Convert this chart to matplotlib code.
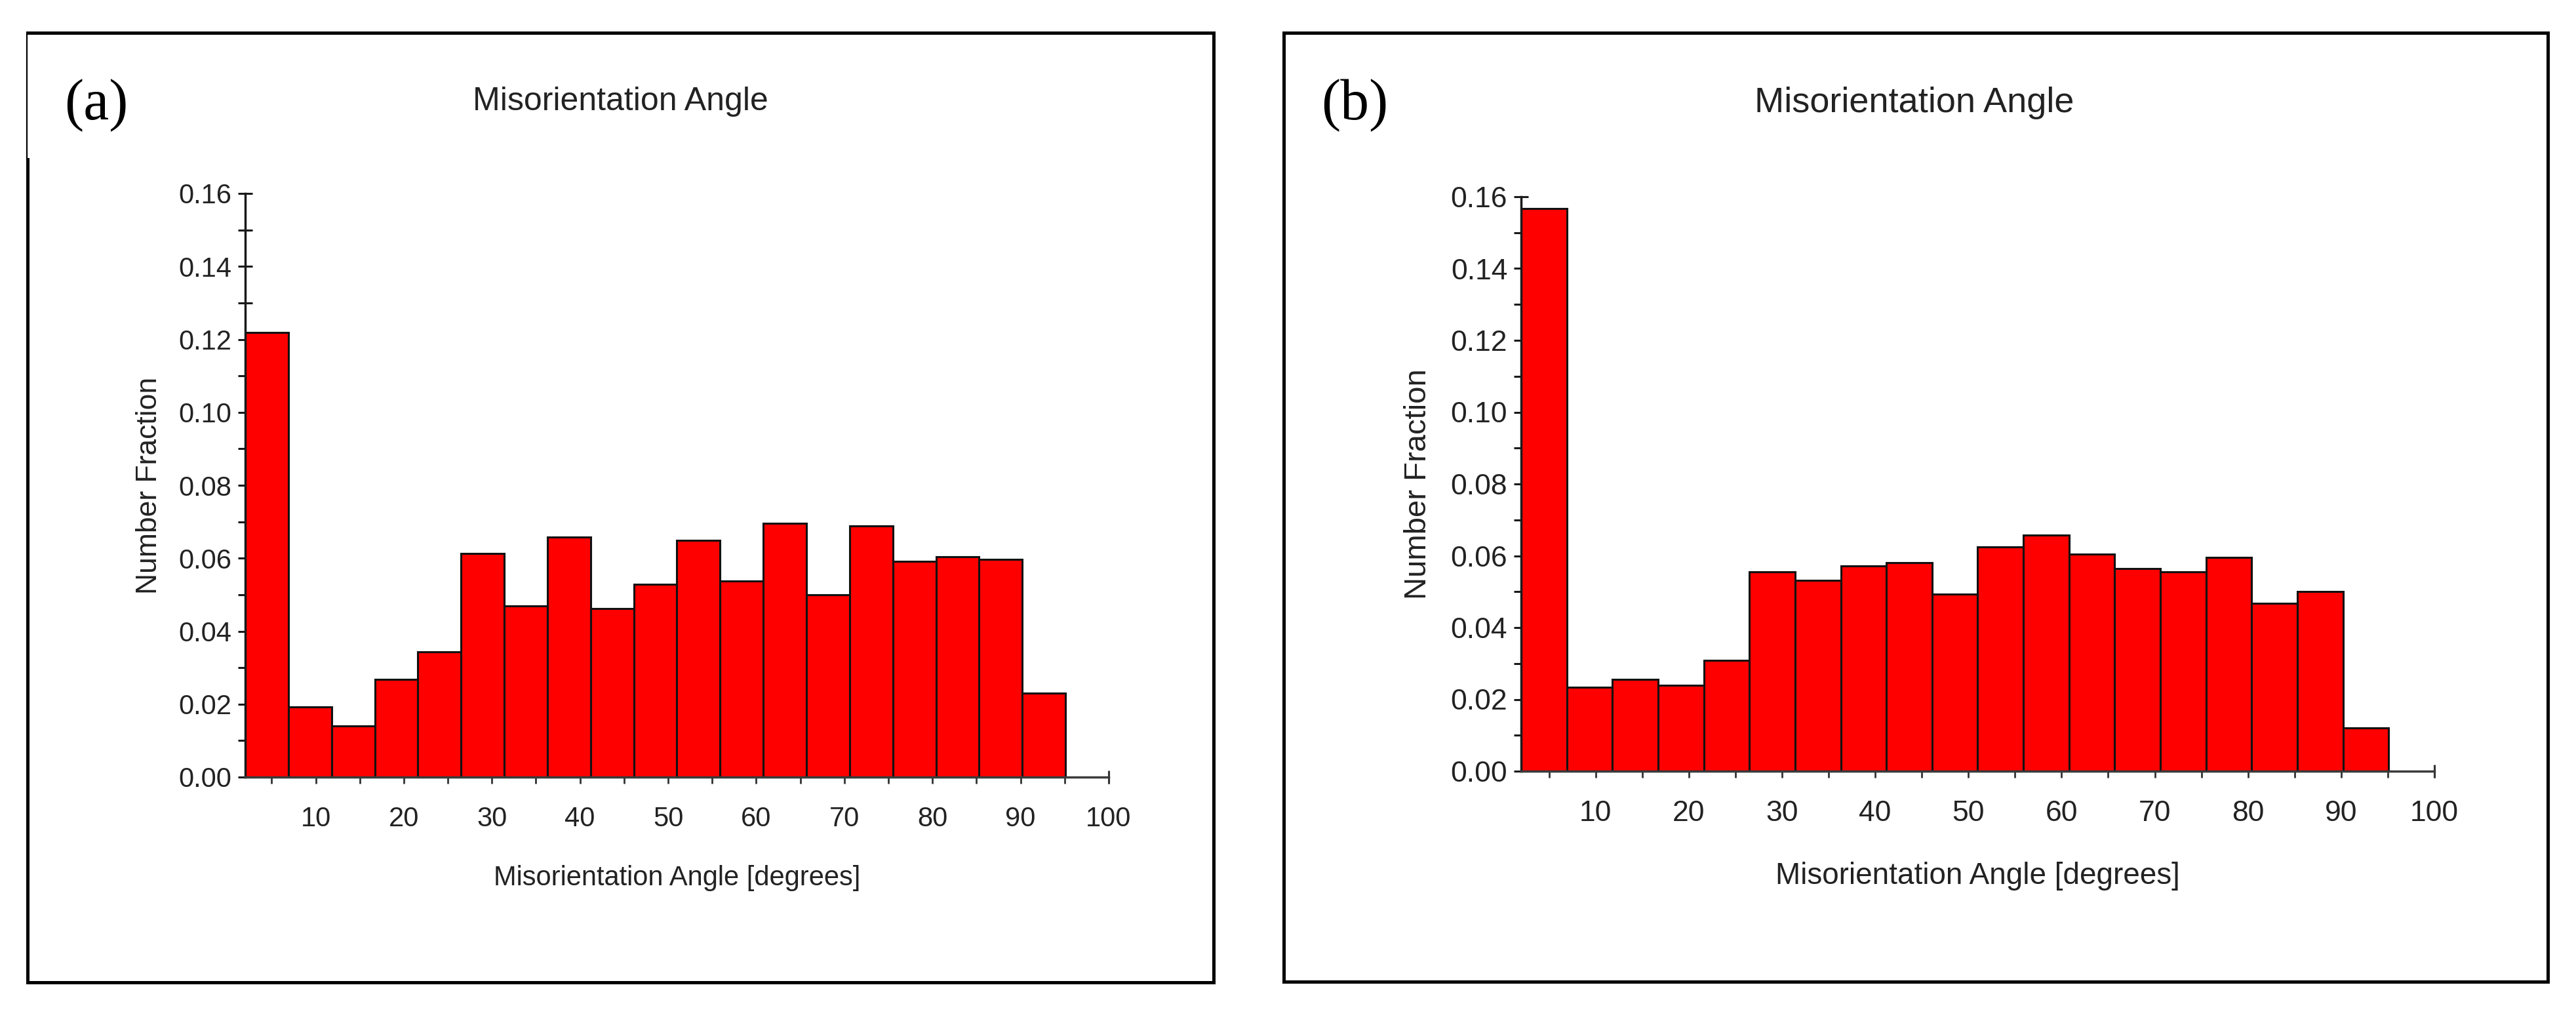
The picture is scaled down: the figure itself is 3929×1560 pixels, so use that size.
import numpy as np
import matplotlib.pyplot as plt
from matplotlib.lines import Line2D

plt.rcParams['font.family'] = ['Liberation Sans', 'DejaVu Sans']

W, H = 3930, 1560

# histogram bins (degrees)
bin_start = 2.0
bin_width = 4.9

# number fraction per bin
frac_a = [0.1218, 0.0192, 0.0140, 0.0267, 0.0344, 0.0613, 0.0470, 0.0658, 0.0462, 0.0529,
          0.0649, 0.0538, 0.0695, 0.0500, 0.0688, 0.0591, 0.0604, 0.0597, 0.0231]
frac_b = [0.1568, 0.0233, 0.0255, 0.0240, 0.0309, 0.0556, 0.0531, 0.0571, 0.0580, 0.0493,
          0.0625, 0.0658, 0.0604, 0.0564, 0.0556, 0.0595, 0.0467, 0.0500, 0.0120]

x_major = [10, 20, 30, 40, 50, 60, 70, 80, 90, 100]
x_minor = [5, 15, 25, 35, 45, 55, 65, 75, 85, 95]
y_major = [0.00, 0.02, 0.04, 0.06, 0.08, 0.10, 0.12, 0.14, 0.16]
y_minor = [0.01, 0.03, 0.05, 0.07, 0.09, 0.11, 0.13, 0.15]

title = 'Misorientation Angle'
xlab = 'Misorientation Angle [degrees]'
ylab = 'Number Fraction'


def fx(x):
    return x / W


def fy(y):
    return 1 - y / H


fig = plt.figure(figsize=(W / 100, H / 100), dpi=100)
fig.patch.set_facecolor('white')

# panel settings: axes box in pixels, frame box, label spots, font sizes
panels = [
    dict(data=frac_a, tag='(a)', ax=(374, 295, 1691, 1185), frame=(42, 50, 1851, 1498),
         tag_x=98, title_x=946, title_y=168, ylab_x=-0.0957, xlab_y=-0.1854,
         fs_tick=30, fs_title=36, fs_xlab=30, fs_ylab=32),
    dict(data=frac_b, tag='(b)', ax=(2320, 300, 3713, 1176), frame=(1958, 50, 3886, 1497),
         tag_x=2015, title_x=2920, title_y=171, ylab_x=-0.0969, xlab_y=-0.1963,
         fs_tick=32, fs_title=39, fs_xlab=33, fs_ylab=34),
]

for p in panels:
    l, t, r, b = p['ax']
    ax = fig.add_axes([fx(l), fy(b), fx(r) - fx(l), fy(t) - fy(b)])
    vals = np.array(p['data'])
    lefts = bin_start + bin_width * np.arange(len(vals))
    ax.bar(lefts, vals, width=bin_width, align='edge', color='#ff0000',
           edgecolor='#111111', linewidth=2.2)
    ax.set_xlim(bin_start, 100)
    ax.set_ylim(0, 0.16)
    ax.set_axisbelow(True)

    for s in ['top', 'right']:
        ax.spines[s].set_visible(False)
    ax.spines['left'].set_color('#1a1a1a')
    ax.spines['left'].set_linewidth(2.5)
    ax.spines['bottom'].set_color('#3a3a3a')
    ax.spines['bottom'].set_linewidth(2.5)

    ax.set_xticks(x_major)
    ax.set_xticks(x_minor, minor=True)
    ax.set_yticks(y_major)
    ax.set_yticks(y_minor, minor=True)
    ax.set_yticklabels(['%.2f' % v for v in y_major])
    ax.tick_params(axis='x', which='both', direction='out', length=7, width=2,
                   color='#333333', pad=25, labelsize=p['fs_tick'], labelcolor='#222222')
    ax.tick_params(axis='y', which='both', direction='inout', length=16, width=2.2,
                   color='#1a1a1a', pad=7, labelsize=p['fs_tick'], labelcolor='#222222')
    # end cap on the x axis
    ax.plot([ax.get_xlim()[1]], [0], marker='|', markersize=14, mew=2.2,
            color='#333333', clip_on=False)

    ax.set_xlabel(xlab, fontsize=p['fs_xlab'], color='#222222')
    ax.xaxis.label.set_va('baseline')
    ax.xaxis.set_label_coords(0.5, p['xlab_y'])
    ax.set_ylabel(ylab, fontsize=p['fs_ylab'], color='#222222')
    ax.yaxis.set_label_coords(p['ylab_x'], 0.5)

    fig.text(fx(p['title_x']), fy(p['title_y']), title, ha='center', va='baseline',
             fontsize=p['fs_title'], color='#222222')
    fig.text(fx(p['tag_x']), fy(182), p['tag'], ha='left', va='baseline',
             fontsize=63, family='Liberation Serif', color='black')

    # outer frame
    fl, ft, fr, fb = p['frame']
    lw = 3.6
    for xs, ys in [((fl, fr), (ft, ft)), ((fr, fr), (ft, fb)), ((fl, fr), (fb, fb))]:
        fig.add_artist(Line2D([fx(v) for v in xs], [fy(v) for v in ys],
                              color='black', lw=lw, solid_capstyle='projecting'))
    if p['tag'] == '(a)':
        fig.add_artist(Line2D([fx(fl - 1)] * 2, [fy(ft), fy(243)], color='black', lw=1.6))
        fig.add_artist(Line2D([fx(fl)] * 2, [fy(243), fy(fb)], color='black', lw=lw,
                              solid_capstyle='projecting'))
    else:
        fig.add_artist(Line2D([fx(fl)] * 2, [fy(ft), fy(fb)], color='black', lw=lw,
                              solid_capstyle='projecting'))

fig.savefig('out.png', dpi=100, facecolor='white')
